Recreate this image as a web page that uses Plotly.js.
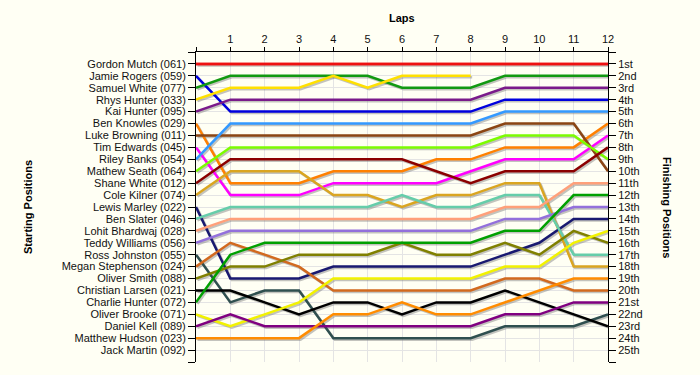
<!DOCTYPE html>
<html>
<head>
<meta charset="utf-8">
<script src="https://cdn.plot.ly/plotly-3.0.1.min.js"></script>
<style>
html,body{margin:0;padding:0;background:#FFFFF4;}
#chart{width:700px;height:375px;}
</style>
</head>
<body>
<div id="chart"></div>
<script>
// ---- data ----
const laps = [0,1,2,3,4,5,6,7,8,9,10,11,12];
const lapLabels = ['', '1','2','3','4','5','6','7','8','9','10','11','12'];
const startingLabels = [
  'Gordon Mutch (061)','Jamie Rogers (059)','Samuel White (077)','Rhys Hunter (033)',
  'Kai Hunter (095)','Ben Knowles (029)','Luke Browning (011)','Tim Edwards (045)',
  'Riley Banks (054)','Mathew Seath (064)','Shane White (012)','Cole Kilner (074)',
  'Lewis Marley (022)','Ben Slater (046)','Lohit Bhardwaj (028)','Teddy Williams (056)',
  'Ross Johnston (055)','Megan Stephenson (024)','Oliver Smith (088)','Christian Larsen (021)',
  'Charlie Hunter (072)','Oliver Brooke (071)','Daniel Kell (089)','Matthew Hudson (023)',
  'Jack Martin (092)'
];
const finishingLabels = [
  '1st','2nd','3rd','4th','5th','6th','7th','8th','9th','10th','11th','12th','13th',
  '14th','15th','16th','17th','18th','19th','20th','21st','22nd','23rd','24th','25th'
];

// positions per lap (lap 0 = start)
const gordonMutch     = [1,1,1,1,1,1,1,1,1,1,1,1,1];
const jamieRogers     = [2,5,5,5,5,5,5,5,5,4,4,4,4];
const samuelWhite     = [3,2,2,2,2,2,3,3,3,2,2,2,2];
const rhysHunter      = [4,3,3,3,2,3,2,2,2,null,null,null,null];
const kaiHunter       = [5,4,4,4,4,4,4,4,4,3,3,3,3];
const benKnowles      = [6,11,11,11,10,10,10,9,9,8,8,8,6];
const lukeBrowning    = [7,7,7,7,7,7,7,7,7,6,6,6,10];
const timEdwards      = [8,12,12,12,11,11,11,11,10,9,9,9,7];
const rileyBanks      = [9,6,6,6,6,6,6,6,6,5,5,5,5];
const mathewSeath     = [10,8,8,8,8,8,8,8,8,7,7,7,9];
const shaneWhite      = [11,9,9,9,9,9,9,10,11,10,10,10,8];
const coleKilner      = [12,10,10,10,12,12,13,12,12,11,11,18,18];
const lewisMarley     = [13,19,19,19,18,18,18,18,18,17,16,14,14];
const benSlater       = [14,13,13,13,13,13,12,13,13,12,12,17,17];
const lohitBhardwaj   = [15,14,14,14,14,14,14,14,14,13,13,11,11];
const teddyWilliams   = [16,15,15,15,15,15,15,15,15,14,14,13,13];
const rossJohnston    = [17,21,20,20,24,24,24,24,24,23,23,23,22];
const meganStephenson = [18,16,17,18,20,20,20,20,20,19,19,20,20];
const oliverSmith     = [19,18,18,17,17,17,16,17,17,16,17,15,16];
const christianLarsen = [20,20,21,22,21,21,22,21,21,20,21,22,23];
const charlieHunter   = [21,17,16,16,16,16,16,16,16,15,15,12,12];
const oliverBrooke    = [22,23,22,21,19,19,19,19,19,18,18,16,15];
const danielKell      = [23,22,23,23,23,23,23,23,23,22,22,21,21];
const matthewHudson   = [24,24,24,24,22,22,21,22,22,21,20,19,19];

const series = [gordonMutch, jamieRogers, samuelWhite, rhysHunter, kaiHunter, benKnowles,
  lukeBrowning, timEdwards, rileyBanks, mathewSeath, shaneWhite, coleKilner, lewisMarley,
  benSlater, lohitBhardwaj, teddyWilliams, rossJohnston, meganStephenson, oliverSmith,
  christianLarsen, charlieHunter, oliverBrooke, danielKell, matthewHudson];

// ---- styles ----
const colors = ['#EE1111','#0000DD','#119911','#FFE000','#7A1A8A','#FF8000',
  '#8B4513','#FF00FF','#3399FF','#7CFC00','#8B0000','#DAA520','#191970',
  '#66CDAA','#FFA07A','#9370DB','#2F4F4F','#D2691E','#808000',
  '#000000','#00A000','#F2F200','#800080','#FF8C00'];

const axisFont = {family: 'Arial, "Liberation Sans", sans-serif', size: 11, color: '#111111'};
const titleFont = {family: 'Arial, "Liberation Sans", sans-serif', size: 11, color: '#000000', weight: 'bold'};

const traces = [];
// shadows on main (hidden, slightly shifted) axes
series.forEach((s, i) => {
  traces.push({x: laps, y: s, type: 'scatter', mode: 'lines', xaxis: 'x', yaxis: 'y',
    line: {color: '#7a7a7a', width: 2.5}, opacity: 0.45, hoverinfo: 'skip', showlegend: false});
});
// real lines
series.forEach((s, i) => {
  traces.push({x: laps, y: s, type: 'scatter', mode: 'lines', xaxis: 'x2', yaxis: 'y2',
    name: startingLabels[i], line: {color: colors[i], width: 2.5}, hoverinfo: 'skip', showlegend: false});
});
// trace to attach the finishing-position axis
traces.push({x: laps, y: gordonMutch, type: 'scatter', mode: 'lines', xaxis: 'x2', yaxis: 'y3',
  line: {color: colors[0], width: 2.5}, hoverinfo: 'skip', showlegend: false});

const yTickVals = [0].concat(startingLabels.map((_, i) => i + 1)).concat([26]);
const yTickStart = [''].concat(startingLabels).concat(['']);
const yTickFinish = [''].concat(finishingLabels).concat(['']);

const plotW = 412, plotH = 310;
const dx = 1.5 * 12 / plotW;
const dy = 1.5 * 26 / plotH;

const layout = {
  width: 700, height: 375,
  margin: {l: 196, r: 92, t: 52, b: 13, pad: 0},
  paper_bgcolor: '#FFFFF4', plot_bgcolor: '#FFFFF4',
  showlegend: false,
  hovermode: false,
  xaxis: {visible: false, range: [-dx, 12 - dx], fixedrange: true},
  yaxis: {visible: false, range: [26 - dy, -dy], fixedrange: true},
  xaxis2: {
    overlaying: 'x', anchor: 'y2', side: 'top', range: [0, 12],
    tickmode: 'array', tickvals: laps, ticktext: lapLabels,
    ticks: 'outside', ticklen: 4, tickcolor: '#000', tickwidth: 1,
    showline: true, linecolor: '#000', linewidth: 1,
    showgrid: true, gridcolor: '#E4E4E4', gridwidth: 1, zeroline: false,
    tickfont: axisFont, fixedrange: true
  },
  yaxis2: {
    overlaying: 'y', anchor: 'x2', side: 'left', range: [26, 0],
    tickmode: 'array', tickvals: yTickVals, ticktext: yTickStart,
    ticks: 'outside', ticklen: 7, tickcolor: '#000', tickwidth: 1,
    showline: true, linecolor: '#000', linewidth: 1,
    showgrid: true, gridcolor: '#E4E4E4', gridwidth: 1, zeroline: false,
    tickfont: axisFont, fixedrange: true
  },
  yaxis3: {
    overlaying: 'y', anchor: 'x2', side: 'right', range: [26, 0],
    tickmode: 'array', tickvals: yTickVals, ticktext: yTickFinish,
    ticks: 'outside', ticklen: 7, tickcolor: '#000', tickwidth: 1,
    showline: true, linecolor: '#000', linewidth: 1,
    showgrid: false, zeroline: false,
    tickfont: axisFont, fixedrange: true
  },
  annotations: [
    {text: 'Laps', xref: 'paper', yref: 'paper', x: 0.5, y: 1 + (52 - 18) / plotH,
      xanchor: 'center', yanchor: 'middle', showarrow: false, font: titleFont},
    {text: 'Starting Positions', xref: 'paper', yref: 'paper', x: (28 - 196) / plotW, y: 0.5,
      xanchor: 'center', yanchor: 'middle', textangle: -90, showarrow: false, font: titleFont},
    {text: 'Finishing Positions', xref: 'paper', yref: 'paper', x: (667 - 196) / plotW, y: 0.5,
      xanchor: 'center', yanchor: 'middle', textangle: 90, showarrow: false, font: titleFont}
  ]
};

Plotly.newPlot('chart', traces, layout, {displayModeBar: false, staticPlot: true});
</script>
</body>
</html>
